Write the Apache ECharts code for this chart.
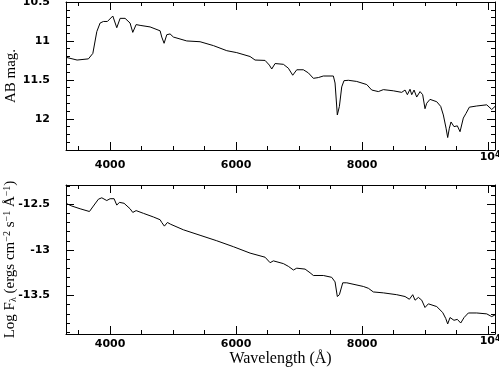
<!DOCTYPE html>
<html>
<head>
<meta charset="utf-8">
<script src="https://cdn.jsdelivr.net/npm/echarts@6/dist/echarts.min.js"></script>
<style>
  html, body { margin: 0; padding: 0; background: #fff; }
  #main { width: 499px; height: 375px; }
</style>
</head>
<body>
<div id="main"></div>
<script>
// spectrum, top panel (AB magnitude)
var waveTop = [3300, 3476, 3656, 3726, 3789, 3841, 3894, 3957, 4043, 4063, 4106, 4159, 4238, 4317, 4360, 4413, 4476, 4635, 4794, 4820,
    4857, 4900, 4952, 5005, 5217, 5428, 5640, 5852, 6011, 6222, 6301, 6460, 6528, 6566, 6619, 6751, 6830, 6899, 6963, 7068,
    7147, 7227, 7306, 7385, 7544, 7571, 7607, 7640, 7677, 7713, 7782, 7915, 8074, 8153, 8258, 8338, 8496, 8629, 8682, 8719,
    8761, 8788, 8825, 8867, 8920, 8962, 8999, 9026, 9078, 9185, 9248, 9290, 9333, 9359, 9385, 9412, 9459, 9512, 9555, 9607,
    9650, 9703, 9820, 9979, 10058, 10111];
var magTop = [11.21, 11.245, 11.23, 11.16, 10.88, 10.77, 10.75, 10.75, 10.68, 10.67, 10.83, 10.71, 10.71, 10.77, 10.89, 10.79, 10.80, 10.82, 10.87, 10.95,
    11.03, 10.92, 10.91, 10.95, 11.0, 11.01, 11.06, 11.125, 11.15, 11.2, 11.245, 11.25, 11.31, 11.36, 11.29, 11.30, 11.35, 11.44, 11.37, 11.37,
    11.41, 11.48, 11.47, 11.45, 11.45, 11.54, 11.95, 11.84, 11.59, 11.51, 11.505, 11.52, 11.56, 11.63, 11.65, 11.625, 11.64, 11.66, 11.63, 11.69,
    11.62, 11.69, 11.63, 11.72, 11.65, 11.69, 11.87, 11.80, 11.75, 11.78, 11.84, 11.95, 12.12, 12.24, 12.12, 12.04, 12.10, 12.09, 12.165, 11.99,
    11.93, 11.85, 11.835, 11.82, 11.88, 11.84];

// spectrum, bottom panel (log flux)
var waveBot = [3300, 3392, 3524, 3672, 3735, 3815, 3868, 3947, 4000, 4063, 4106, 4148, 4222, 4317, 4360, 4413, 4529, 4688, 4794, 4820,
    4862, 4910, 4963, 5163, 5428, 5693, 5957, 6222, 6460, 6540, 6592, 6751, 6830, 6910, 6963, 7095, 7174, 7227, 7385, 7518,
    7571, 7607, 7640, 7693, 7757, 8020, 8100, 8179, 8338, 8550, 8682, 8709, 8751, 8804, 8841, 8894, 8947, 8999, 9052, 9185,
    9280, 9328, 9359, 9396, 9459, 9512, 9566, 9619, 9687, 9820, 9979, 10058, 10111];
var fluxBot = [-12.49, -12.52, -12.55, -12.58, -12.52, -12.445, -12.43, -12.46, -12.44, -12.44, -12.51, -12.48, -12.49, -12.55, -12.59, -12.57, -12.60, -12.64, -12.67, -12.70,
    -12.74, -12.70, -12.72, -12.78, -12.84, -12.90, -12.965, -13.035, -13.08, -13.14, -13.12, -13.15, -13.18, -13.22, -13.20, -13.21, -13.25, -13.28, -13.28, -13.30,
    -13.35, -13.51, -13.49, -13.36, -13.36, -13.40, -13.42, -13.46, -13.47, -13.49, -13.51, -13.49, -13.54, -13.49, -13.55, -13.52, -13.55, -13.63, -13.59, -13.62,
    -13.685, -13.75, -13.81, -13.74, -13.77, -13.76, -13.80, -13.74, -13.69, -13.69, -13.70, -13.73, -13.71];

// ticks
var xMajor = [4000, 6000, 8000, 10000];
var xMinor = [3500, 4500, 5000, 5500, 6500, 7000, 7500, 8500, 9000, 9500];
var magMajor = [10.5, 11, 11.5, 12];
var magMinor = [10.6, 10.7, 10.8, 10.9, 11.1, 11.2, 11.3, 11.4, 11.6, 11.7, 11.8, 11.9, 12.1, 12.2, 12.3];
var fluxMajor = [-12.5, -13, -13.5];
var fluxMinor = [-12.3, -12.4, -12.6, -12.7, -12.8, -12.9, -13.1, -13.2, -13.3, -13.4, -13.6, -13.7, -13.8, -13.9];

var chart = echarts.init(document.getElementById('main'));

var tickFont = { fontFamily: 'DejaVu Sans', fontWeight: 'bold', fontSize: 11, color: '#000' };
var titleFont = { fontFamily: 'Liberation Serif', fontSize: 15, color: '#000' };
var black = { color: '#000', width: 1 };

function xAxes(grid, padTop) {
    var base = { type: 'value', gridIndex: grid, min: 3300, max: 10110, splitLine: { show: false } };
    var list = [];
    // bottom, major with labels
    list.push(Object.assign({}, base, {
        position: 'bottom',
        axisLine: { show: true, lineStyle: black },
        axisTick: { inside: true, length: 8, lineStyle: black, customValues: xMajor },
        axisLabel: Object.assign({}, tickFont, {
            customValues: xMajor, margin: 1,
            formatter: function (v) { return v === 10000 ? '{b|10}{s|4}' : '{n|' + v + '}'; },
            rich: {
                n: Object.assign({}, tickFont, { padding: [padTop, 0, 0, 0] }),
                b: Object.assign({}, tickFont, { padding: [0, 0, 0, 4] }),
                s: Object.assign({}, tickFont, { fontSize: 8, padding: [0, 0, 5, 0] })
            }
        })
    }));
    list.push(Object.assign({}, base, {
        position: 'bottom',
        axisLine: { show: false },
        axisTick: { inside: true, length: 4, lineStyle: black, customValues: xMinor },
        axisLabel: { show: false }
    }));
    list.push(Object.assign({}, base, {
        position: 'top',
        axisLine: { show: true, lineStyle: black },
        axisTick: { inside: true, length: 8, lineStyle: black, customValues: xMajor },
        axisLabel: { show: false }
    }));
    list.push(Object.assign({}, base, {
        position: 'top',
        axisLine: { show: false },
        axisTick: { inside: true, length: 4, lineStyle: black, customValues: xMinor },
        axisLabel: { show: false }
    }));
    return list;
}

function yAxes(grid, lo, hi, inv, major, minor, name) {
    var base = { type: 'value', gridIndex: grid, min: lo, max: hi, inverse: inv, splitLine: { show: false } };
    var list = [];
    list.push(Object.assign({}, base, {
        position: 'left',
        name: name.text, nameLocation: 'middle', nameGap: name.gap, nameMoveOverlap: false,
        nameTextStyle: name.style,
        axisLine: { show: true, lineStyle: black },
        axisTick: { inside: true, length: 8, lineStyle: black, customValues: major },
        axisLabel: Object.assign({}, tickFont, { customValues: major, margin: 16 })
    }));
    list.push(Object.assign({}, base, {
        position: 'left',
        axisLine: { show: false },
        axisTick: { inside: true, length: 4, lineStyle: black, customValues: minor },
        axisLabel: { show: false }
    }));
    list.push(Object.assign({}, base, {
        position: 'right',
        axisLine: { show: true, lineStyle: black },
        axisTick: { inside: true, length: 8, lineStyle: black, customValues: major },
        axisLabel: { show: false }
    }));
    list.push(Object.assign({}, base, {
        position: 'right',
        axisLine: { show: false },
        axisTick: { inside: true, length: 4, lineStyle: black, customValues: minor },
        axisLabel: { show: false }
    }));
    return list;
}

function pairs(xs, ys) {
    return xs.map(function (x, i) { return [x, ys[i]]; });
}

var xs = xAxes(0, 9).concat(xAxes(1, 4));
// bottom grid's first x axis carries the title
xs[4].name = 'Wavelength (Å)';
xs[4].nameLocation = 'middle';
xs[4].nameGap = 17;
xs[4].nameMoveOverlap = false;
xs[4].nameTextStyle = Object.assign({}, titleFont, { fontSize: 16 });

var ys = yAxes(0, 10.5, 12.4, true, magMajor, magMinor, {
    text: 'AB mag.', gap: 47, style: Object.assign({}, titleFont)
}).concat(yAxes(1, -13.92, -12.29, false, fluxMajor, fluxMinor, {
    text: 'Log F{sub|λ} (ergs cm{sup|−2} s{sup|−1} Å{sup|−1})', gap: 48,
    style: Object.assign({}, titleFont, {
        rich: {
            sub: Object.assign({}, titleFont, { fontSize: 10, padding: [6, 0, 0, 0] }),
            sup: Object.assign({}, titleFont, { fontSize: 10, padding: [0, 0, 6, 0] })
        }
    })
}));

var option = {
    backgroundColor: '#fff',
    animation: false,
    grid: [
        { left: 66, top: 2, width: 429, height: 148, containLabel: false, outerBoundsMode: 'none' },
        { left: 66, top: 185, width: 429, height: 149, containLabel: false, outerBoundsMode: 'none' }
    ],
    xAxis: xs,
    yAxis: ys,
    series: [
        {
            type: 'line', xAxisIndex: 0, yAxisIndex: 0,
            data: pairs(waveTop, magTop),
            showSymbol: false, symbol: 'none', clip: true,
            lineStyle: { color: '#000', width: 1 }
        },
        {
            type: 'line', xAxisIndex: 4, yAxisIndex: 4,
            data: pairs(waveBot, fluxBot),
            showSymbol: false, symbol: 'none', clip: true,
            lineStyle: { color: '#000', width: 1 }
        }
    ]
};
chart.setOption(option);
</script>
</body>
</html>
